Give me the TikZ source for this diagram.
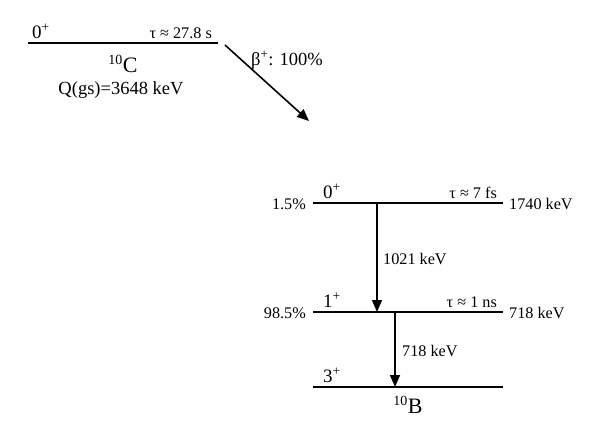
\documentclass[tikz,border=0pt]{standalone}
\usepackage{fontspec}
\setmainfont{Liberation Serif}
\usetikzlibrary{arrows.meta}
\begin{document}
\begin{tikzpicture}[x=1pt,y=-1pt,
  level/.style={line width=1.6pt},
  trans/.style={line width=1.6pt,-{Triangle[length=12pt,width=10pt]}},
  lbl/.style={inner sep=0pt,font=\fontsize{16.2}{19}\selectfont},
  biglbl/.style={inner sep=0pt,font=\fontsize{18.5}{22}\selectfont},
  spin/.style={inner sep=0pt,font=\fontsize{19}{22}\selectfont,anchor=base west},
  elem/.style={inner sep=0pt,font=\fontsize{22}{26}\selectfont,anchor=base}]
\useasboundingbox (0,0) rectangle (598,431);
% parent level
\coordinate (c0L) at (28,43); \coordinate (c0R) at (218,43);
\draw[level] (c0L) -- (c0R);
\node[spin] (c0spin) at (32,38) {0\textsuperscript{+}};
\node[lbl,anchor=base east] (c0tau) at (212,38) {τ ≈ 27.8 s};
\node[elem] (cname) at (123,72) {\textsuperscript{\fontsize{14}{16}\selectfont 10}C};
\node[biglbl,anchor=base] (cq) at (121,94) {Q(gs)=3648 keV};
% beta arrow
\coordinate (bs) at (225,45); \coordinate (be) at (309,121);
\draw[trans] (bs) -- (be);
\node[biglbl,anchor=base west] (blbl) at (251,65) {β\textsuperscript{+}: 100\%};
% daughter levels
\coordinate (l2L) at (313,203); \coordinate (l2R) at (503,203);
\coordinate (l1L) at (313,312); \coordinate (l1R) at (503,312);
\coordinate (l0L) at (313,387); \coordinate (l0R) at (503,387);
\draw[level] (l2L) -- (l2R);
\draw[level] (l1L) -- (l1R);
\draw[level] (l0L) -- (l0R);
\node[lbl,anchor=east] (p2) at (306,204) {1.5\%};
\node[lbl,anchor=east] (p1) at (306,313) {98.5\%};
\node[lbl,anchor=west] (e2) at (509,204) {1740 keV};
\node[lbl,anchor=west] (e1) at (509,313) {718 keV};
\node[spin] (s2) at (323,198) {0\textsuperscript{+}};
\node[spin] (s1) at (323,307) {1\textsuperscript{+}};
\node[spin] (s0) at (323,382) {3\textsuperscript{+}};
\node[lbl,anchor=base east] (t2) at (497,198) {τ ≈ 7 fs};
\node[lbl,anchor=base east] (t1) at (497,307) {τ ≈ 1 ns};
\node[elem] (bname) at (408,413) {\textsuperscript{\fontsize{14}{16}\selectfont 10}B};
% gamma transitions
\coordinate (g1s) at (377,203); \coordinate (g1e) at (377,312);
\coordinate (g2s) at (395,312); \coordinate (g2e) at (395,387);
\draw[trans] (g1s) -- (g1e);
\draw[trans] (g2s) -- (g2e);
\node[lbl,anchor=base west] (g1l) at (383,264) {1021 keV};
\node[lbl,anchor=base west] (g2l) at (402,356) {718 keV};
\end{tikzpicture}
\end{document}
